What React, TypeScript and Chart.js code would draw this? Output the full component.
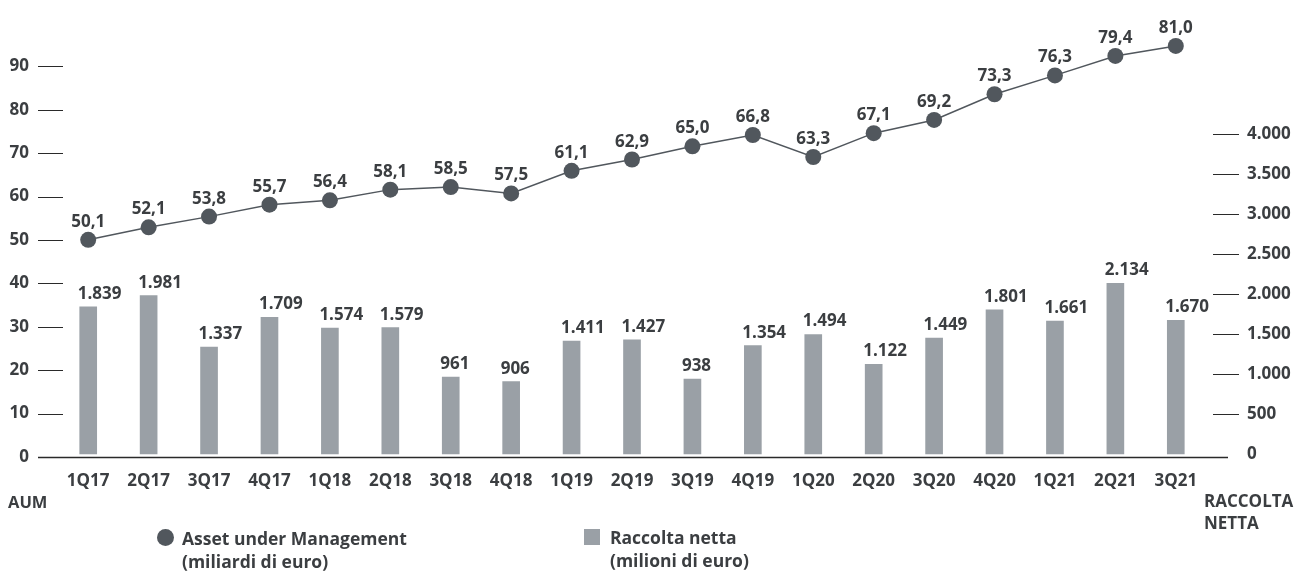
import React, { useEffect, useRef } from "react";
import { Chart, registerables } from "chart.js";

Chart.register(...registerables);

const categories = ["1Q17", "2Q17", "3Q17", "4Q17", "1Q18", "2Q18", "3Q18", "4Q18", "1Q19", "2Q19", "3Q19", "4Q19", "1Q20", "2Q20", "3Q20", "4Q20", "1Q21", "2Q21", "3Q21"];
const aumValues = [50.1, 52.1, 53.8, 55.7, 56.4, 58.1, 58.5, 57.5, 61.1, 62.9, 65.0, 66.8, 63.3, 67.1, 69.2, 73.3, 76.3, 79.4, 81.0];
const raccoltaValues = [1839, 1981, 1337, 1709, 1574, 1579, 961, 906, 1411, 1427, 938, 1354, 1494, 1122, 1449, 1801, 1661, 2134, 1670];
const leftTicks = [0, 10, 20, 30, 40, 50, 60, 70, 80, 90];
const rightTicks = [0, 500, 1000, 1500, 2000, 2500, 3000, 3500, 4000];

const FONT = "'Open Sans', 'Noto Sans', sans-serif";
const TEXT = "#3b3e41";
const BAR = "#9aa0a6";
const POINT = "#51575d";
const TICKLINE = "#2a2a2a";

function fmtThousands(v: number): string {
  const s = Math.round(v).toString();
  return s.replace(/\B(?=(\d{3})+(?!\d))/g, ".");
}
function fmtDecimal(v: number): string {
  return v.toFixed(1).replace(".", ",");
}

const decorPlugin = {
  id: "decor",
  afterDatasetsDraw(chart: any) {
    const ctx = chart.ctx;
    const area = chart.chartArea;
    const yL = chart.scales.y;
    const yR = chart.scales.yR;
    ctx.save();
    const y0 = Math.round(yL.getPixelForValue(0)) + 0.5;
    ctx.strokeStyle = TICKLINE;
    ctx.lineWidth = 1.3;
    ctx.beginPath();
    ctx.moveTo(area.left - 20, y0);
    ctx.lineTo(area.right + 22, y0);
    ctx.stroke();
    ctx.lineWidth = 1;
    leftTicks.forEach((v) => {
      if (v === 0) return;
      const y = Math.round(yL.getPixelForValue(v)) + 0.5;
      ctx.beginPath();
      ctx.moveTo(area.left - 20, y);
      ctx.lineTo(area.left + 5, y);
      ctx.stroke();
    });
    rightTicks.forEach((v) => {
      if (v === 0) return;
      const y = Math.round(yR.getPixelForValue(v)) + 0.5;
      ctx.beginPath();
      ctx.moveTo(area.right + 7, y);
      ctx.lineTo(area.right + 33, y);
      ctx.stroke();
    });
    ctx.fillStyle = TEXT;
    ctx.font = `700 17px ${FONT}`;
    ctx.textBaseline = "alphabetic";
    const barMeta = chart.getDatasetMeta(1);
    barMeta.data.forEach((el: any, i: number) => {
      ctx.textAlign = "left";
      ctx.fillText(fmtThousands(raccoltaValues[i]), el.x - el.width / 2 - 2, el.y - 8);
    });
    const lineMeta = chart.getDatasetMeta(0);
    lineMeta.data.forEach((el: any, i: number) => {
      ctx.textAlign = "center";
      ctx.fillText(fmtDecimal(aumValues[i]), el.x, el.y - 13);
    });
    ctx.restore();
  },
};

export default function App() {
  const ref = useRef<HTMLCanvasElement | null>(null);
  useEffect(() => {
    document.body.style.margin = "0";
    if (!ref.current) return;
    const tickFont = { family: FONT, size: 17, weight: 700 as any };
    const chart = new Chart(ref.current, {
      type: "bar",
      data: {
        labels: categories,
        datasets: [
          {
            type: "line",
            label: "Asset under Management",
            data: aumValues,
            yAxisID: "yA",
            borderColor: POINT,
            borderWidth: 1.5,
            pointRadius: 8,
            pointHoverRadius: 8,
            pointBackgroundColor: POINT,
            pointBorderWidth: 0,
            tension: 0,
            order: 0,
          } as any,
          {
            type: "bar",
            label: "Raccolta netta",
            data: raccoltaValues,
            yAxisID: "yR",
            backgroundColor: BAR,
            barThickness: 17,
            order: 1,
          },
        ],
      },
      options: {
        responsive: false,
        animation: false,
        events: [],
        layout: { padding: { top: 23, left: 0, right: 0, bottom: 0 } },
        plugins: { legend: { display: false }, tooltip: { enabled: false } },
        scales: {
          x: {
            type: "category",
            offset: true,
            grid: { display: false, drawTicks: false, tickLength: 0 },
            border: { display: false },
            ticks: { color: TEXT, font: tickFont, padding: 14, maxRotation: 0, autoSkip: false },
            afterFit: (s: any) => {
              s.height = 117;
            },
          },
          y: {
            position: "left",
            min: 0,
            max: 100,
            grid: { display: false, drawTicks: true, tickLength: 29 },
            border: { display: false },
            afterBuildTicks: (s: any) => {
              s.ticks = leftTicks.map((v) => ({ value: v }));
            },
            ticks: { color: TEXT, font: tickFont, padding: 0, callback: (v: any) => String(v) },
            afterFit: (s: any) => {
              s.width = 58;
            },
          },
          yR: {
            position: "right",
            min: -37.5,
            max: 5387.5,
            grid: { display: false, drawTicks: true, tickLength: 41 },
            border: { display: false },
            afterBuildTicks: (s: any) => {
              s.ticks = rightTicks.map((v) => ({ value: v }));
            },
            ticks: { color: TEXT, font: tickFont, padding: 0, callback: (v: any) => fmtThousands(Number(v)) },
            afterFit: (s: any) => {
              s.width = 104;
            },
          },
          yA: { display: false, min: 15.5, max: 84.65 },
        },
      },
      plugins: [decorPlugin],
    });
    return () => chart.destroy();
  }, []);

  const txt: React.CSSProperties = {
    position: "absolute",
    fontFamily: FONT,
    fontWeight: 700,
    fontSize: 16.5,
    lineHeight: "20px",
    color: TEXT,
    whiteSpace: "nowrap",
  };

  return (
    <div style={{ position: "relative", width: 1310, height: 574, background: "#fff" }}>
      <canvas ref={ref} width={1310} height={574} style={{ display: "block", width: 1310, height: 574 }} />
      <div style={{ ...txt, left: 8, top: 492 }}>AUM</div>
      <div style={{ ...txt, left: 1204, top: 490, fontSize: 17, lineHeight: "21.6px" }}>
        RACCOLTA
        <br />
        NETTA
      </div>
      <div
        style={{ position: "absolute", left: 157, top: 529, width: 17, height: 17, borderRadius: "50%", background: POINT }}
      />
      <div style={{ ...txt, left: 182, top: 527, fontSize: 17.5, lineHeight: "23px" }}>
        Asset under Management
        <br />
        (miliardi di euro)
      </div>
      <div style={{ position: "absolute", left: 584, top: 529, width: 16, height: 16, background: BAR }} />
      <div style={{ ...txt, left: 610, top: 526, fontSize: 17.5, lineHeight: "23px" }}>
        Raccolta netta
        <br />
        (milioni di euro)
      </div>
    </div>
  );
}
